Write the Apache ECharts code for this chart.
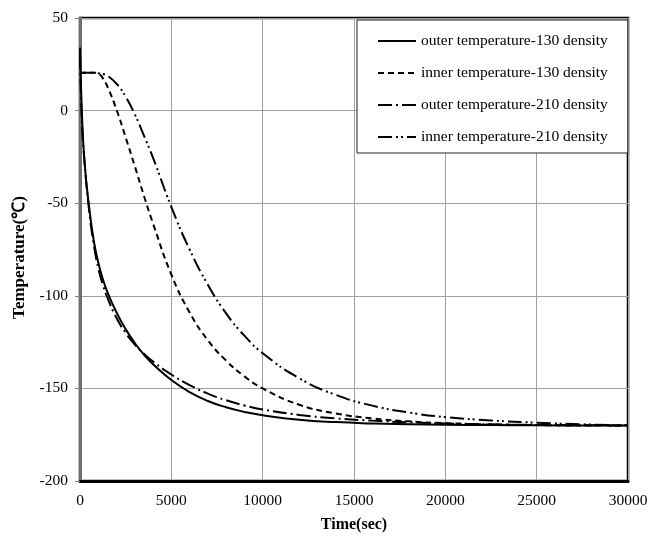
<!DOCTYPE html>
<html>
<head>
<meta charset="utf-8">
<script src="https://cdn.jsdelivr.net/npm/echarts@6/dist/echarts.min.js"></script>
<style>html,body{margin:0;padding:0;background:#fff;}#c{width:650px;height:536px;}</style>
</head>
<body>
<div id="c"></div>
<script>
var times = [0, 100, 250, 500, 750, 1000, 1250, 1500, 2000, 2500, 3000, 3500, 4000, 5000, 6000, 7000, 8000, 9000, 10000, 12000, 14000, 16000, 18000, 20000, 22500, 25000, 27500, 30000];
var outer130 = [34, 0, -28, -52, -70, -82, -91, -98, -109, -118, -125.5, -131.8, -137, -145.5, -152, -156.8, -160.2, -162.7, -164.5, -166.9, -168.2, -168.9, -169.3, -169.6, -169.8, -169.9, -170, -170];
var inner130 = [20.5, 20.5, 20.5, 20.5, 20.5, 20, 17.5, 13, 0.5, -14.5, -30, -46, -61, -88.5, -109, -124, -135, -143.5, -150, -158.8, -163.5, -166.2, -167.8, -168.8, -169.5, -169.8, -170, -170];
var outer210 = [30, -5, -28, -54, -72, -85, -94, -101, -112, -120, -126.3, -131.3, -135.5, -142.5, -148.2, -152.8, -156.4, -159.2, -161.4, -164.3, -166.2, -167.4, -168.3, -168.9, -169.4, -169.7, -169.9, -170];
var inner210 = [20.5, 20.5, 20.5, 20.5, 20.5, 20.2, 19.8, 18.8, 14.5, 7.5, -2, -13.5, -25.5, -52, -75, -94, -109.5, -121.5, -131, -144.5, -153.5, -159.3, -163, -165.5, -167.3, -168.5, -169.4, -170];
var seriesNames = ['outer temperature-130 density', 'inner temperature-130 density', 'outer temperature-210 density', 'inner temperature-210 density'];

function pairs(vals) { return times.map(function (t, i) { return [t, vals[i]]; }); }
var font = '"Liberation Serif", "Times New Roman", serif';
var dashes = ['solid', [6, 4], [14, 4, 2, 4], [14, 4, 2, 3, 2, 4]];
var dataSets = [outer130, inner130, outer210, inner210];

var chart = echarts.init(document.getElementById('c'), null, { renderer: 'canvas' });
chart.setOption({
  animation: false,
  backgroundColor: '#fff',
  grid: { left: 80, right: 22, top: 18, bottom: 55, show: true, borderColor: '#000', borderWidth: 2.5, containLabel: false, outerBoundsMode: 'none' },
  legend: {
    orient: 'vertical', left: 357, top: 20,
    padding: [13, 20, 8, 20], itemGap: 16, itemWidth: 38, itemHeight: 15,
    backgroundColor: '#fff', borderColor: '#222', borderWidth: 1, borderRadius: 0,
    itemStyle: { opacity: 0 },
    textStyle: { fontFamily: font, fontSize: 15.5, color: '#000' },
    data: seriesNames
  },
  xAxis: {
    type: 'value', min: 0, max: 30000, interval: 5000,
    name: 'Time(sec)', nameLocation: 'middle', nameGap: 36,
    nameTextStyle: { fontFamily: font, fontSize: 16, fontWeight: 'bold', color: '#000' },
    axisLine: { show: true, onZero: false, lineStyle: { color: '#000', width: 3 } },
    axisTick: { show: false },
    axisLabel: { fontFamily: font, fontSize: 15.5, color: '#000', margin: 12, formatter: function (v) { return String(v); } },
    splitLine: { show: true, lineStyle: { color: '#a0a0a0', width: 1 } }
  },
  yAxis: {
    type: 'value', min: -200, max: 50, interval: 50,
    name: 'Temperature(℃)', nameLocation: 'middle', nameGap: 52,
    nameTextStyle: { fontFamily: font, fontSize: 17, fontWeight: 'bold', color: '#000', padding: [0, 16, 0, 0] },
    axisLine: { show: true, onZero: false, lineStyle: { color: '#707070', width: 3 } },
    axisTick: { show: true, length: 5, lineStyle: { color: '#808080' } },
    axisLabel: { fontFamily: font, fontSize: 15.5, color: '#000', margin: 12, formatter: function (v) { return String(v); } },
    splitLine: { show: true, lineStyle: { color: '#a0a0a0', width: 1 } }
  },
  series: seriesNames.map(function (n, i) {
    return {
      name: n, type: 'line', data: pairs(dataSets[i]),
      showSymbol: false, symbol: 'none', smooth: true,
      lineStyle: { color: '#000', width: 2, type: dashes[i] },
      itemStyle: { color: '#000' },
      z: 3
    };
  })
});
</script>
</body>
</html>
